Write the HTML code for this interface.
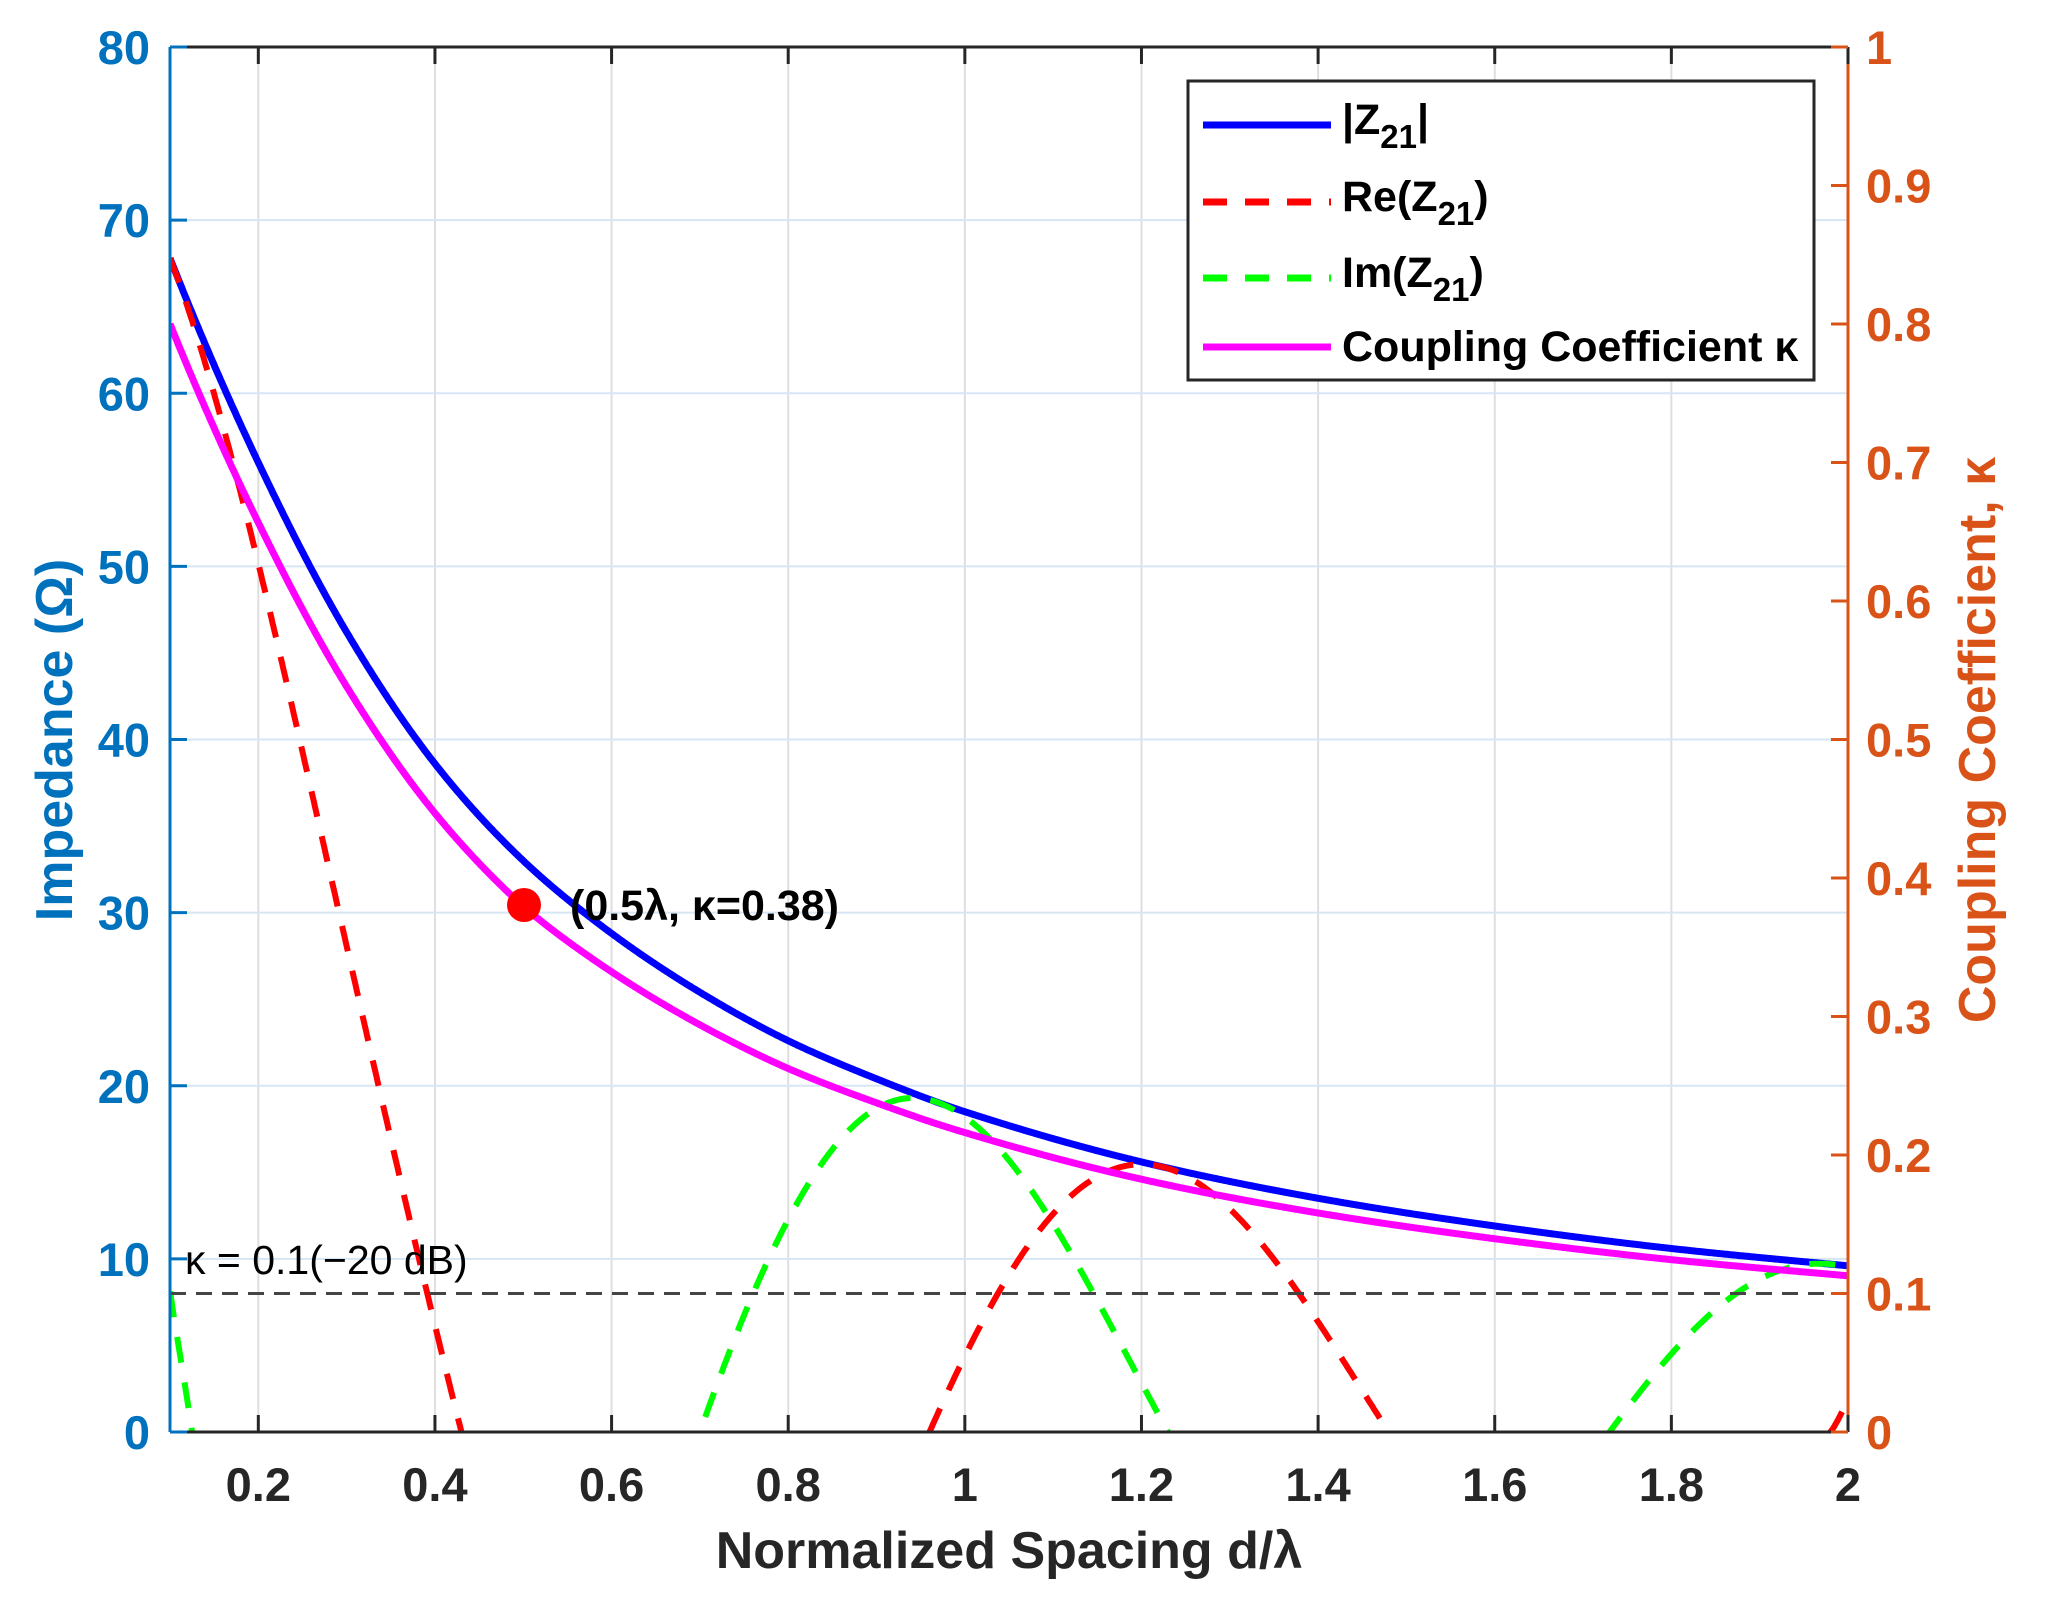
<!DOCTYPE html>
<html><head><meta charset="utf-8">
<style>
html,body{margin:0;padding:0;background:#fff;overflow:hidden;width:2046px;height:1615px;}
svg{display:block;}
text{font-family:"Liberation Sans",Arial,sans-serif;}
</style></head>
<body>
<svg id="s" width="2046" height="1615" viewBox="0 0 2046 1615" xmlns="http://www.w3.org/2000/svg">
<defs><clipPath id="cp"><rect x="170" y="47" width="1678" height="1385"/></clipPath></defs>
<rect x="0" y="0" width="2046" height="1615" fill="#fff"/>
<g id="grid"></g>
<g id="curves" clip-path="url(#cp)"></g>
<g id="axes"></g>
<text x="185" y="1274" font-size="41" fill="#000">κ = 0.1(−20 dB)</text>
<circle cx="524" cy="905" r="17" fill="#ff0000"/>
<text x="570" y="920" font-size="43" font-weight="bold" fill="#000">(0.5λ, κ=0.38)</text>
<rect x="1188" y="81" width="626" height="299" fill="#fff" stroke="#262626" stroke-width="3"/>
<line x1="1203" y1="125" x2="1331" y2="125" stroke="#0000ff" stroke-width="7"/>
<line x1="1203" y1="202" x2="1331" y2="202" stroke="#ff0000" stroke-width="7" stroke-dasharray="24,18"/>
<line x1="1203" y1="278" x2="1331" y2="278" stroke="#00ff00" stroke-width="7" stroke-dasharray="24,18"/>
<line x1="1203" y1="347" x2="1331" y2="347" stroke="#ff00ff" stroke-width="7"/>
<g font-size="43" font-weight="bold" fill="#000">
<text x="1342" y="134">|Z<tspan font-size="33" dy="14">21</tspan><tspan dy="-14">|</tspan></text>
<text x="1342" y="211">Re(Z<tspan font-size="33" dy="14">21</tspan><tspan dy="-14">)</tspan></text>
<text x="1342" y="287">Im(Z<tspan font-size="33" dy="14">21</tspan><tspan dy="-14">)</tspan></text>
<text x="1342" y="361">Coupling Coefficient κ</text>
</g>
<text x="1009" y="1568" font-size="52" font-weight="bold" fill="#262626" text-anchor="middle">Normalized Spacing d/λ</text>
<text transform="translate(72,740) rotate(-90)" font-size="52" font-weight="bold" fill="#0072BD" text-anchor="middle">Impedance (Ω)</text>
<text transform="translate(1995,740) rotate(-90)" font-size="52" font-weight="bold" fill="#D95319" text-anchor="middle">Coupling Coefficient, κ</text>
</svg>
<script>
var L=170,R=1848,T=47,B=1432;
function X(d){return L+(d-0.1)*(R-L)/1.9;}
function Y(v){return B-v*(B-T)/80;}
var NS="http://www.w3.org/2000/svg";
function el(p,tag,a,txt){var e=document.createElementNS(NS,tag);for(var k in a)e.setAttribute(k,a[k]);if(txt!=null)e.textContent=txt;p.appendChild(e);return e;}
var g=document.getElementById('grid'),ax=document.getElementById('axes'),cv=document.getElementById('curves');
for(var i=1;i<=10;i++){var d=i*0.2;el(g,'line',{x1:X(d),x2:X(d),y1:T,y2:B,stroke:'#dedede','stroke-width':2});}
for(var v=10;v<80;v+=10){el(g,'line',{x1:L,x2:R,y1:Y(v),y2:Y(v),stroke:'#d6e6f4','stroke-width':2});}
function interp(k,d){for(var i=0;i<k.length-1;i++){if(d<=k[i+1][0]){var t=(d-k[i][0])/(k[i+1][0]-k[i][0]);return k[i][1]+t*(k[i+1][1]-k[i][1]);}}return k[k.length-1][1];}
function cr(k,d){var n=k.length;var i=0;while(i<n-2&&d>k[i+1][0])i++;
var p0=k[Math.max(i-1,0)],p1=k[i],p2=k[i+1],p3=k[Math.min(i+2,n-1)];
var t=(d-p1[0])/(p2[0]-p1[0]);
var m1=(p2[1]-p0[1])/(p2[0]-p0[0])*(p2[0]-p1[0]);
var m2=(p3[1]-p1[1])/(p3[0]-p1[0])*(p2[0]-p1[0]);
var t2=t*t,t3=t2*t;
return (2*t3-3*t2+1)*p1[1]+(t3-2*t2+t)*m1+(-2*t3+3*t2)*p2[1]+(t3-t2)*m2;}
var Rk=[[0.1,67.8],[0.2,56.0],[0.3,46.2],[0.4,38.6],[0.5,33.0],[0.6,28.8],[0.7,25.4],[0.8,22.6],[0.9,20.4],[1.0,18.5],[1.2,15.6],[1.4,13.5],[1.6,11.9],[1.8,10.6],[2.0,9.6]];
var RkL=Rk.map(function(p){return [p[0],Math.log(p[1])]});
var Kk=[[0.1,0.944],[0.5,0.92],[1.0,0.935],[2.0,0.94]];
var P=Math.PI;
var Pr=[[0.1,0],[0.43,P/2],[0.96,1.5*P],[1.48,2.5*P],[1.98,3.5*P],[2.0,3.56*P]];
var Pi=[[0.1,P-0.12],[0.125,P],[0.70,2*P],[1.23,3*P],[1.73,4*P],[2.0,4.54*P]];
function Rf(d){return Math.exp(cr(RkL,d));}
var pb=[],pk=[],pr=[],pim=[];
for(var j=0;j<=1900;j++){var d=0.1+j*0.001;var r=Rf(d);
pb.push(X(d).toFixed(1)+','+Y(r).toFixed(1));
pk.push(X(d).toFixed(1)+','+Y(r*interp(Kk,d)).toFixed(1));
pr.push(X(d).toFixed(1)+','+Y(r*Math.cos(cr(Pr,d))).toFixed(1));
pim.push(X(d).toFixed(1)+','+Y(r*Math.sin(cr(Pi,d))).toFixed(1));}
el(cv,'polyline',{points:pb.join(' '),fill:'none',stroke:'#0000ff','stroke-width':7});
el(cv,'polyline',{points:pr.join(' '),fill:'none',stroke:'#ff0000','stroke-width':6,'stroke-dasharray':'26,20'});
el(cv,'polyline',{points:pim.join(' '),fill:'none',stroke:'#00ff00','stroke-width':6,'stroke-dasharray':'26,20'});
el(cv,'polyline',{points:pk.join(' '),fill:'none',stroke:'#ff00ff','stroke-width':7});
el(cv,'line',{x1:L,x2:R,y1:Y(8),y2:Y(8),stroke:'#444','stroke-width':3,'stroke-dasharray':'16,10'});
el(ax,'line',{x1:L,x2:R,y1:B,y2:B,stroke:'#262626','stroke-width':3});
el(ax,'line',{x1:L,x2:R,y1:T,y2:T,stroke:'#262626','stroke-width':3});
el(ax,'line',{x1:L,x2:L,y1:T,y2:B,stroke:'#0072BD','stroke-width':3});
el(ax,'line',{x1:R,x2:R,y1:T,y2:B,stroke:'#D95319','stroke-width':3});
var xl=['0.2','0.4','0.6','0.8','1','1.2','1.4','1.6','1.8','2'];
for(var i=1;i<=10;i++){var x=X(i*0.2);
el(ax,'line',{x1:x,x2:x,y1:B,y2:B-17,stroke:'#262626','stroke-width':3});
el(ax,'line',{x1:x,x2:x,y1:T,y2:T+17,stroke:'#262626','stroke-width':3});
el(ax,'text',{x:x,y:1501,'font-size':47,'font-weight':'bold',fill:'#262626','text-anchor':'middle'},xl[i-1]);}
for(var v=0;v<=80;v+=10){var y=Y(v);
el(ax,'line',{x1:L,x2:L+17,y1:y,y2:y,stroke:'#0072BD','stroke-width':3});
el(ax,'text',{x:150,y:y+17,'font-size':47,'font-weight':'bold',fill:'#0072BD','text-anchor':'end'},String(v));}
for(var k=0;k<=10;k++){var y=B-k*(B-T)/10;
el(ax,'line',{x1:R-17,x2:R,y1:y,y2:y,stroke:'#D95319','stroke-width':3});
el(ax,'text',{x:1866,y:y+17,'font-size':47,'font-weight':'bold',fill:'#D95319'},k==0?'0':(k==10?'1':'0.'+k));}
</script>
</body></html>
